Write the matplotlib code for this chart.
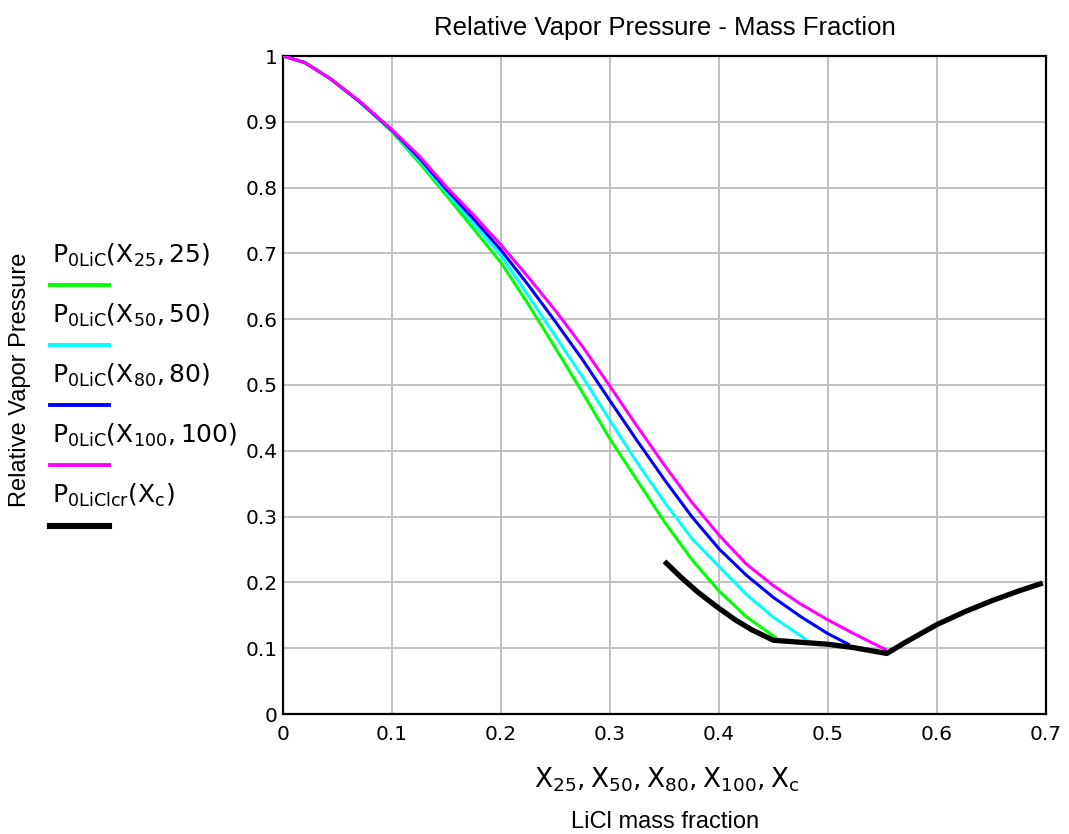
import matplotlib
matplotlib.use("Agg")
import matplotlib.pyplot as plt
from matplotlib.lines import Line2D

# curve data (LiCl mass fraction, relative vapor pressure)
x_25 = [0.0, 0.02, 0.043, 0.07, 0.1, 0.125, 0.15, 0.175, 0.2, 0.225, 0.25, 0.275, 0.3, 0.325,
        0.35, 0.375, 0.4, 0.425, 0.453]
p_25 = [1.0, 0.990, 0.966, 0.931, 0.885, 0.838, 0.788, 0.737, 0.686, 0.623, 0.556, 0.488, 0.418, 0.355,
        0.292, 0.235, 0.187, 0.148, 0.115]

x_50 = [0.0, 0.02, 0.043, 0.07, 0.1, 0.125, 0.15, 0.175, 0.2, 0.225, 0.25, 0.275, 0.3, 0.325,
        0.35, 0.375, 0.4, 0.425, 0.45, 0.481]
p_50 = [1.0, 0.990, 0.966, 0.931, 0.886, 0.842, 0.793, 0.745, 0.697, 0.636, 0.574, 0.512, 0.446, 0.382,
        0.322, 0.267, 0.224, 0.182, 0.147, 0.112]

x_80 = [0.0, 0.02, 0.043, 0.07, 0.1, 0.125, 0.15, 0.175, 0.2, 0.225, 0.25, 0.275, 0.3, 0.325,
        0.35, 0.375, 0.4, 0.425, 0.45, 0.475, 0.5, 0.52]
p_80 = [1.0, 0.990, 0.966, 0.931, 0.887, 0.845, 0.797, 0.752, 0.705, 0.652, 0.596, 0.538, 0.476, 0.415,
        0.356, 0.300, 0.251, 0.211, 0.177, 0.148, 0.122, 0.105]

x_100 = [0.0, 0.02, 0.043, 0.07, 0.1, 0.125, 0.15, 0.175, 0.2, 0.225, 0.25, 0.275, 0.3, 0.325,
         0.35, 0.375, 0.4, 0.425, 0.45, 0.475, 0.5, 0.525, 0.554]
p_100 = [1.0, 0.990, 0.966, 0.932, 0.888, 0.848, 0.801, 0.758, 0.713, 0.664, 0.613, 0.558, 0.498, 0.437,
         0.378, 0.322, 0.272, 0.228, 0.195, 0.167, 0.143, 0.121, 0.097]

x_c = [0.350, 0.365, 0.380, 0.398, 0.415, 0.430, 0.450, 0.475, 0.500, 0.523, 0.554,
       0.570, 0.585, 0.600, 0.625, 0.650, 0.675, 0.697]
p_c = [0.232, 0.208, 0.186, 0.163, 0.143, 0.128, 0.112, 0.109, 0.106, 0.101, 0.092,
       0.108, 0.122, 0.136, 0.155, 0.172, 0.187, 0.199]

x_ticks = [0, 0.1, 0.2, 0.3, 0.4, 0.5, 0.6, 0.7]
x_tick_labels = ["0", "0.1", "0.2", "0.3", "0.4", "0.5", "0.6", "0.7"]
y_ticks = [0, 0.1, 0.2, 0.3, 0.4, 0.5, 0.6, 0.7, 0.8, 0.9, 1.0]
y_tick_labels = ["0", "0.1", "0.2", "0.3", "0.4", "0.5", "0.6", "0.7", "0.8", "0.9", "1"]

legend_labels = [
    r"$P_{0LiC}\left(X_{25}, 25\right)$",
    r"$P_{0LiC}\left(X_{50}, 50\right)$",
    r"$P_{0LiC}\left(X_{80}, 80\right)$",
    r"$P_{0LiC}\left(X_{100}, 100\right)$",
    r"$P_{0LiClcr}\left(X_c\right)$",
]
colors = ["#00ff00", "#00ffff", "#0000ff", "#ff00ff", "#000000"]
widths = [2.2, 2.2, 2.2, 2.2, 3.8]

plt.rcParams["font.family"] = ["DejaVu Sans"]
plt.rcParams["mathtext.default"] = "regular"
sans = ["Liberation Sans", "DejaVu Sans"]

W, H = 1069, 834
fig = plt.figure(figsize=(W / 100, H / 100), dpi=100)
ax = fig.add_axes([283 / W, 1 - 714 / H, 763 / W, 658 / H])

series = [(x_25, p_25), (x_50, p_50), (x_80, p_80), (x_100, p_100), (x_c, p_c)]
for (xs, ys), c, lw in zip(series, colors, widths):
    ax.plot(xs, ys, color=c, lw=lw, solid_capstyle="butt", solid_joinstyle="round", zorder=3)

ax.set_xlim(0, 0.7)
ax.set_ylim(0, 1)
ax.set_xticks(x_ticks)
ax.set_xticklabels(x_tick_labels)
ax.set_yticks(y_ticks)
ax.set_yticklabels(y_tick_labels)
ax.tick_params(axis="both", length=0, labelsize=14.5)
ax.tick_params(axis="x", pad=8)
ax.tick_params(axis="y", pad=4)
ax.grid(True, color="#c0c0c0", lw=1.4)
ax.set_axisbelow(True)
for s in ax.spines.values():
    s.set_linewidth(1.6)
    s.set_color("black")

# titles and axis captions
fig.text(665 / W, 1 - 28 / H, "Relative Vapor Pressure - Mass Fraction",
         ha="center", va="center", fontsize=18.5, family=sans)
fig.text(667 / W, 1 - 780 / H, r"$X_{25}, X_{50}, X_{80}, X_{100}, X_c$",
         ha="center", va="center", fontsize=19)
fig.text(665 / W, 1 - 822 / H, "LiCl mass fraction",
         ha="center", va="center", fontsize=17, family=sans)
fig.text(20 / W, 1 - 380 / H, "Relative Vapor Pressure", rotation=90,
         ha="center", va="center", fontsize=17, family=sans)

# Mathcad style legend: label above a short line sample
text_y = [255, 315, 375, 435, 495]
line_y = [285, 345, 405, 465, 526]
for lab, c, lw, ty, ly in zip(legend_labels, colors, widths, text_y, line_y):
    fig.text(52 / W, 1 - ty / H, lab, ha="left", va="center", fontsize=18)
    fig.add_artist(Line2D([50 / W, 109 / W], [1 - ly / H, 1 - ly / H],
                          color=c, lw=lw + 0.6, transform=fig.transFigure))

fig.savefig("out.png", dpi=100)
